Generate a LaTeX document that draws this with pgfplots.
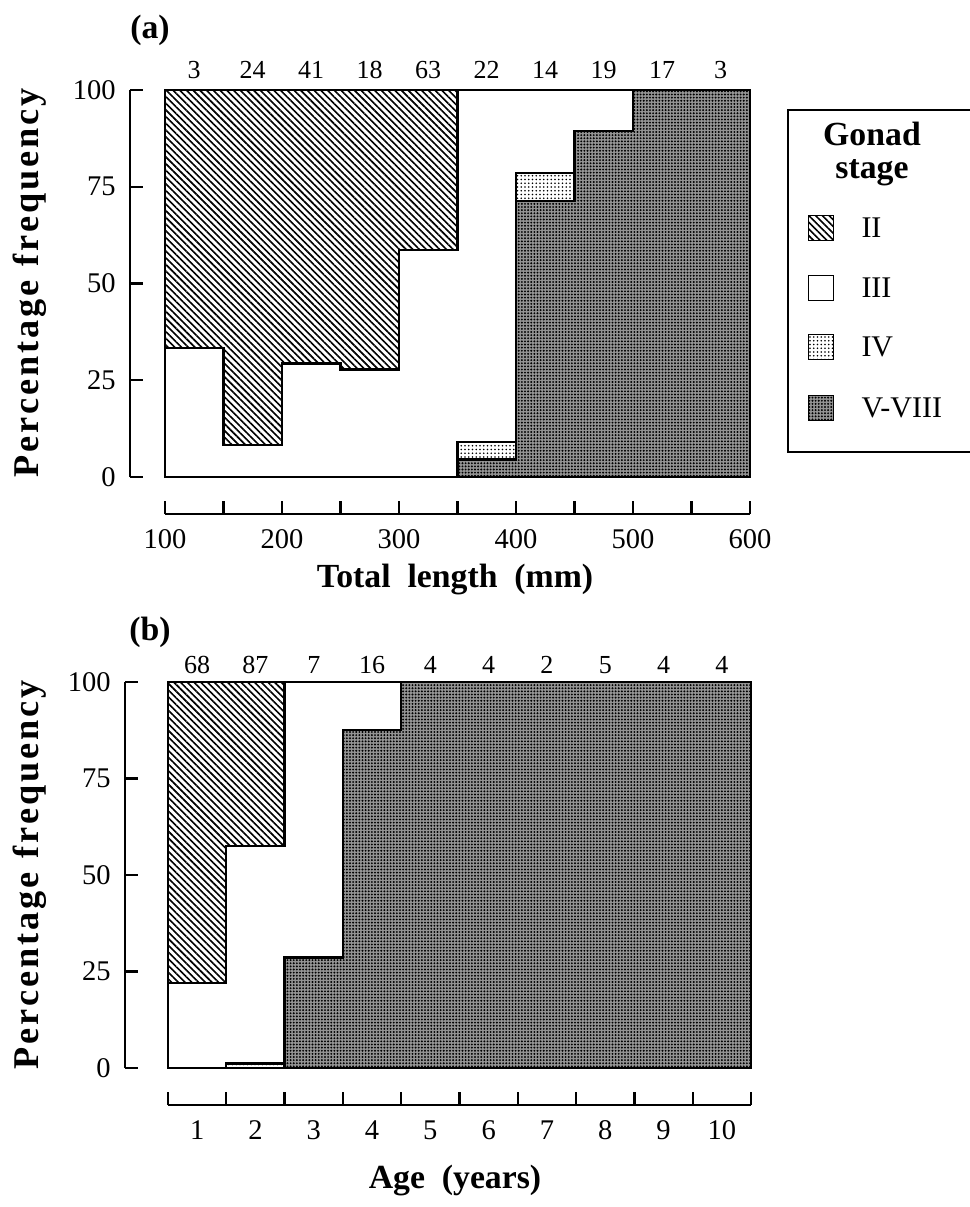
\documentclass[border=0pt]{standalone}
\usepackage{fontspec}
\setmainfont{Liberation Serif}
\usepackage{pgfplots}
\pgfplotsset{compat=1.18}
\usepackage{pgfplotstable}
\usetikzlibrary{patterns,patterns.meta}

% Panel (a): left edge of length class, % of stage V-VIII, IV, III, II
\pgfplotstableread{
x   v     iv   iii   ii
100 0     0    33.3  66.7
150 0     0    8.3   91.7
200 0     0    29.3  70.7
250 0     0    27.8  72.2
300 0     0    58.7  41.3
350 4.5   4.6  90.9  0
400 71.4  7.2  21.4  0
450 89.5  0    10.5  0
500 100   0    0     0
550 100   0    0     0
600 100   0    0     0
}\dataA
\pgfplotstableread{
xc  n
125 3
175 24
225 41
275 18
325 63
375 22
425 14
475 19
525 17
575 3
}\countA
% Panel (b): left edge of age class
\pgfplotstableread{
x    v     iv   iii   ii
0.5  0     0    22.1  77.9
1.5  0     1.2  56.3  42.5
2.5  28.6  0    71.4  0
3.5  87.5  0    12.5  0
4.5  100   0    0     0
5.5  100   0    0     0
6.5  100   0    0     0
7.5  100   0    0     0
8.5  100   0    0     0
9.5  100   0    0     0
10.5 100   0    0     0
}\dataB
\pgfplotstableread{
xc n
1  68
2  87
3  7
4  16
5  4
6  4
7  2
8  5
9  4
10 4
}\countB

\newcommand\tickfont{\fontsize{11.4}{13}\selectfont}
\newcommand\labfont{\bfseries\fontsize{13.5}{16}\selectfont}
\newcommand\ylabfont{\bfseries\fontsize{14.5}{17}\selectfont\addfontfeature{LetterSpace=8}}

\tikzset{
  stII/.style={pattern={Lines[angle=-45,distance=1.9pt,line width=0.65pt]}},
  stIII/.style={fill=white},
  stIV/.style={fill=white,postaction={pattern={Dots[distance=1.5pt,radius=0.38pt]}}},
  stV/.style={fill=black!42,postaction={pattern={Dots[distance=1.25pt,radius=0.42pt]}}},
}

\pgfplotsset{
  dataaxis/.style={scale only axis, ymin=0, ymax=100, xtick=\empty, ytick=\empty,
    axis on top, axis line style={line width=1pt}, clip=false},
  area/.style={const plot, draw=black, line width=0.9pt, mark=none},
  counts/.style={only marks, mark=*, mark size=0pt,
    mark options={draw opacity=0, fill opacity=0},
    nodes near coords, point meta=explicit symbolic,
    nodes near coords style={anchor=base, font=\fontsize{10.4}{12}\selectfont, yshift=#1,
      text opacity=1}},
  yaxisonly/.style={scale only axis, width=1pt, xmin=0, xmax=1, ymin=0, ymax=100,
    axis x line=none, axis y line=left, axis line style={-, line width=0.9pt},
    ytick={0,25,50,75,100}, tick align=inside, major tick length=5.2pt,
    tick style={line width=0.9pt, black},
    yticklabel style={font=\tickfont, xshift=-2.2pt},
    /pgf/number format/assume math mode=true},
  xaxisonly/.style={scale only axis, height=1pt, ymin=0, ymax=1,
    axis y line=none, axis x line=bottom, axis line style={-, line width=0.9pt},
    tick align=inside, major tick length=5.2pt, minor tick length=5.2pt,
    tick style={line width=0.9pt, black}, typeset ticklabels with strut,
    xticklabel style={font=\tickfont, yshift=-1.0pt},
    /pgf/number format/assume math mode=true},
}

\begin{document}
\begin{tikzpicture}
\useasboundingbox (0,0) rectangle (388pt,-482.8pt);

% ---------------- Panel (a) ----------------
\begin{axis}[dataaxis, at={(66pt,-190.8pt)}, anchor=south west,
  width=234pt, height=154.8pt, xmin=100, xmax=600]
  \addplot[area, stII] table[x=x, y expr=100]{\dataA} \closedcycle;
  \addplot[area, stIII] table[x=x, y expr=\thisrow{v}+\thisrow{iv}+\thisrow{iii}]{\dataA} \closedcycle;
  \addplot[area, stIV] table[x=x, y expr=\thisrow{v}+\thisrow{iv}]{\dataA} \closedcycle;
  \addplot[area, stV] table[x=x, y=v]{\dataA} \closedcycle;
  \addplot[counts=4.6pt] table[x=xc, y expr=100, meta=n]{\countA};
\end{axis}
\begin{axis}[yaxisonly, at={(52pt,-190.8pt)}, anchor=south west, height=154.8pt]
\end{axis}
\begin{axis}[xaxisonly, at={(66pt,-205.6pt)}, anchor=south west, width=234pt,
  xmin=100, xmax=600, xtick={100,150,...,600},
  xticklabels={100,,200,,300,,400,,500,,600}]
\end{axis}

% ---------------- Panel (b) ----------------
\begin{axis}[dataaxis, at={(67.2pt,-427.2pt)}, anchor=south west,
  width=233.2pt, height=154.4pt, xmin=0.5, xmax=10.5]
  \addplot[area, stII] table[x=x, y expr=100]{\dataB} \closedcycle;
  \addplot[area, stIII] table[x=x, y expr=\thisrow{v}+\thisrow{iv}+\thisrow{iii}]{\dataB} \closedcycle;
  \addplot[area, stIV] table[x=x, y expr=\thisrow{v}+\thisrow{iv}]{\dataB} \closedcycle;
  \addplot[area, stV] table[x=x, y=v]{\dataB} \closedcycle;
  \addplot[counts=3.6pt] table[x=xc, y expr=100, meta=n]{\countB};
\end{axis}
\begin{axis}[yaxisonly, at={(50pt,-427.2pt)}, anchor=south west, height=154.4pt]
\end{axis}
\begin{axis}[xaxisonly, at={(67.2pt,-442pt)}, anchor=south west, width=233.2pt,
  xmin=0.5, xmax=10.5, xtick={1,...,10}, major tick length=0pt,
  minor xtick={0.5,1.5,...,10.5}]
\end{axis}

% ---------------- Labels ----------------
\node[font=\labfont] at (60pt,-12pt) {(a)};
\node[font=\labfont] at (60pt,-252.8pt) {(b)};
\node[font=\ylabfont, rotate=90] at (12pt,-113.2pt) {Percentage\hspace{0.4em}frequency};
\node[font=\ylabfont, rotate=90] at (12pt,-350pt) {Percentage\hspace{0.4em}frequency};
\node[font=\labfont] at (182pt,-232pt) {Total\hspace{0.5em}length\hspace{0.5em}(mm)};
\node[font=\labfont] at (182pt,-472pt) {Age\hspace{0.5em}(years)};

% ---------------- Legend ----------------
\draw[line width=0.9pt] (392pt,-44pt) -- (315.2pt,-44pt) -- (315.2pt,-180.8pt) -- (392pt,-180.8pt);
\node[font=\labfont] at (348.8pt,-53.6pt) {Gonad};
\node[font=\labfont] at (348.8pt,-69.2pt) {stage};
\draw[line width=0.7pt, stII]  (323.4pt,-86.2pt) rectangle (333.4pt,-96.2pt);
\draw[line width=0.7pt, stIII] (323.4pt,-110.2pt) rectangle (333.4pt,-120.2pt);
\draw[line width=0.7pt, stIV]  (323.4pt,-133.8pt) rectangle (333.4pt,-143.8pt);
\draw[line width=0.7pt, stV]   (323.4pt,-158.2pt) rectangle (333.4pt,-168.2pt);
\node[font=\fontsize{12}{14}\selectfont, anchor=west, inner sep=0pt] at (344.4pt,-91.2pt) {II};
\node[font=\fontsize{12}{14}\selectfont, anchor=west, inner sep=0pt] at (344.4pt,-115.2pt) {III};
\node[font=\fontsize{12}{14}\selectfont, anchor=west, inner sep=0pt] at (344.4pt,-138.8pt) {IV};
\node[font=\fontsize{12}{14}\selectfont, anchor=west, inner sep=0pt] at (344.4pt,-163.2pt) {V-VIII};
\end{tikzpicture}
\end{document}
